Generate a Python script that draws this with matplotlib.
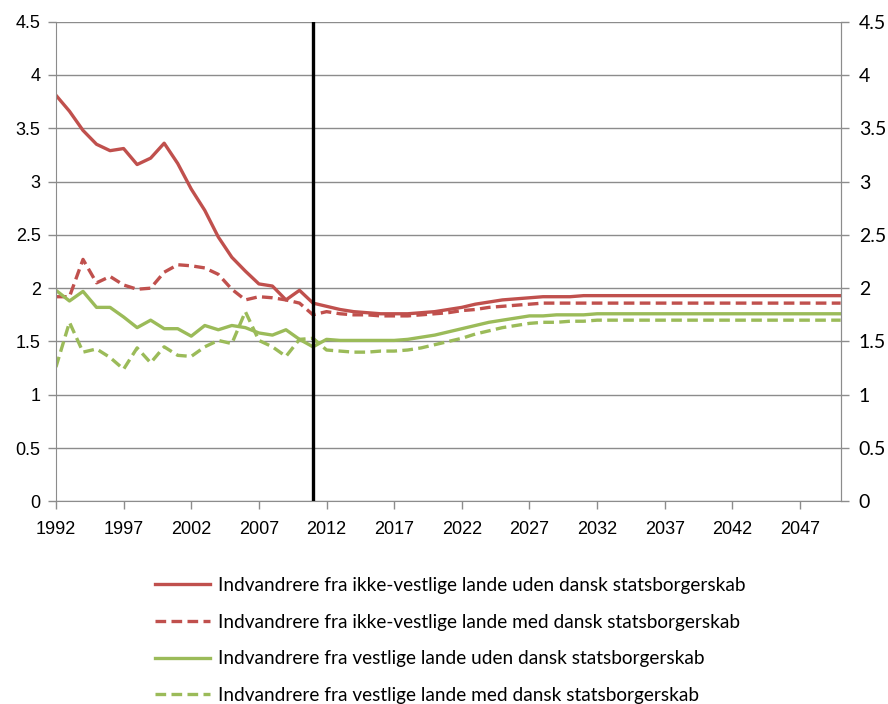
import matplotlib
matplotlib.use("Agg")
import matplotlib.pyplot as plt

# years on the category axis
years = list(range(1992, 2051))

# fertility, immigrants from non-western countries, without / with danish citizenship
ikke_vest_uden = [3.81, 3.66, 3.48, 3.35, 3.29, 3.31, 3.16, 3.22, 3.36, 3.17,
                  2.93, 2.73, 2.48, 2.29, 2.16, 2.04, 2.02, 1.89, 1.98, 1.86,
                  1.83, 1.80, 1.78, 1.77, 1.76, 1.76, 1.76, 1.77, 1.78, 1.80,
                  1.82, 1.85, 1.87, 1.89, 1.90, 1.91, 1.92, 1.92, 1.92, 1.93,
                  1.93, 1.93, 1.93, 1.93, 1.93, 1.93, 1.93, 1.93, 1.93, 1.93,
                  1.93, 1.93, 1.93, 1.93, 1.93, 1.93, 1.93, 1.93, 1.93]
ikke_vest_med = [1.92, 1.92, 2.27, 2.05, 2.11, 2.03, 1.99, 2.00, 2.15, 2.22,
                 2.21, 2.19, 2.13, 1.99, 1.89, 1.92, 1.91, 1.89, 1.86, 1.75,
                 1.78, 1.76, 1.75, 1.75, 1.74, 1.74, 1.74, 1.75, 1.76, 1.77,
                 1.79, 1.80, 1.82, 1.83, 1.84, 1.85, 1.86, 1.86, 1.86, 1.86,
                 1.86, 1.86, 1.86, 1.86, 1.86, 1.86, 1.86, 1.86, 1.86, 1.86,
                 1.86, 1.86, 1.86, 1.86, 1.86, 1.86, 1.86, 1.86, 1.86]
# immigrants from western countries
vest_uden = [1.98, 1.88, 1.97, 1.82, 1.82, 1.73, 1.63, 1.70, 1.62, 1.62,
             1.55, 1.65, 1.61, 1.65, 1.63, 1.58, 1.56, 1.61, 1.52, 1.45,
             1.52, 1.51, 1.51, 1.51, 1.51, 1.51, 1.52, 1.54, 1.56, 1.59,
             1.62, 1.65, 1.68, 1.70, 1.72, 1.74, 1.74, 1.75, 1.75, 1.75,
             1.76, 1.76, 1.76, 1.76, 1.76, 1.76, 1.76, 1.76, 1.76, 1.76,
             1.76, 1.76, 1.76, 1.76, 1.76, 1.76, 1.76, 1.76, 1.76]
vest_med = [1.26, 1.68, 1.40, 1.43, 1.35, 1.24, 1.44, 1.30, 1.45, 1.37,
            1.36, 1.45, 1.51, 1.48, 1.78, 1.51, 1.45, 1.36, 1.52, 1.53,
            1.42, 1.41, 1.40, 1.40, 1.41, 1.41, 1.42, 1.44, 1.47, 1.50,
            1.53, 1.57, 1.60, 1.63, 1.65, 1.67, 1.68, 1.68, 1.69, 1.69,
            1.70, 1.70, 1.70, 1.70, 1.70, 1.70, 1.70, 1.70, 1.70, 1.70,
            1.70, 1.70, 1.70, 1.70, 1.70, 1.70, 1.70, 1.70, 1.70]

labels = ['Indvandrere fra ikke-vestlige lande uden dansk statsborgerskab',
          'Indvandrere fra ikke-vestlige lande med dansk statsborgerskab',
          'Indvandrere fra vestlige lande uden dansk statsborgerskab',
          'Indvandrere fra vestlige lande med dansk statsborgerskab']
x_ticks = list(range(1992, 2050, 5))
y_ticks = [0, 0.5, 1, 1.5, 2, 2.5, 3, 3.5, 4, 4.5]
y_ticklabels = ['0', '0.5', '1', '1.5', '2', '2.5', '3', '3.5', '4', '4.5']
split_year = 2011

red = '#C0504D'
green = '#9BBB59'
grid = '#8C8C8C'

fig = plt.figure(figsize=(8.88, 7.04), dpi=100)
ax = fig.add_axes([0.063, 0.2878, 0.8837, 0.6814])

dash = (0, (3.2, 1.6))
ax.plot(years, ikke_vest_uden, color=red, lw=2.4, label=labels[0])
ax.plot(years, ikke_vest_med, color=red, lw=2.4, ls=dash, label=labels[1])
ax.plot(years, vest_uden, color=green, lw=2.4, label=labels[2])
ax.plot(years, vest_med, color=green, lw=2.4, ls=dash, label=labels[3])
ax.axvline(split_year, color='black', lw=2.4, zorder=5)

ax.set_xlim(1992, 2050)
ax.set_ylim(0, 4.5)
ax.set_xticks(x_ticks)
ax.set_xticklabels([str(y) for y in x_ticks], fontfamily='Liberation Sans', fontsize=13)
ax.set_yticks(y_ticks)
ax.set_yticklabels(y_ticklabels, fontfamily='Liberation Sans', fontsize=13)
ax.yaxis.grid(True, color=grid, lw=1)
ax.set_axisbelow(True)
ax.tick_params(axis='both', color=grid, length=6, width=1, direction='out', pad=5)
ax.tick_params(axis='x', pad=8)
ax.spines['top'].set_visible(False)
for s in ['left', 'bottom', 'right']:
    ax.spines[s].set_color(grid)

ax2 = ax.twinx()
ax2.set_ylim(0, 4.5)
ax2.set_yticks(y_ticks)
ax2.set_yticklabels(y_ticklabels, fontfamily='Lato', fontsize=14)
ax2.tick_params(axis='y', color=grid, length=6, width=1, direction='out', pad=7)
for s in ['top', 'left', 'bottom']:
    ax2.spines[s].set_visible(False)
ax2.spines['right'].set_color(grid)

leg = ax.legend(loc='upper left', bbox_to_anchor=(155 / 888, 1 - 577 / 704),
                bbox_transform=fig.transFigure, frameon=False,
                prop={'family': 'Lato', 'size': 13.7}, handlelength=2.9,
                handletextpad=0.42, labelspacing=1.03, borderpad=0,
                borderaxespad=0)

fig.savefig('out.png', dpi=100)
